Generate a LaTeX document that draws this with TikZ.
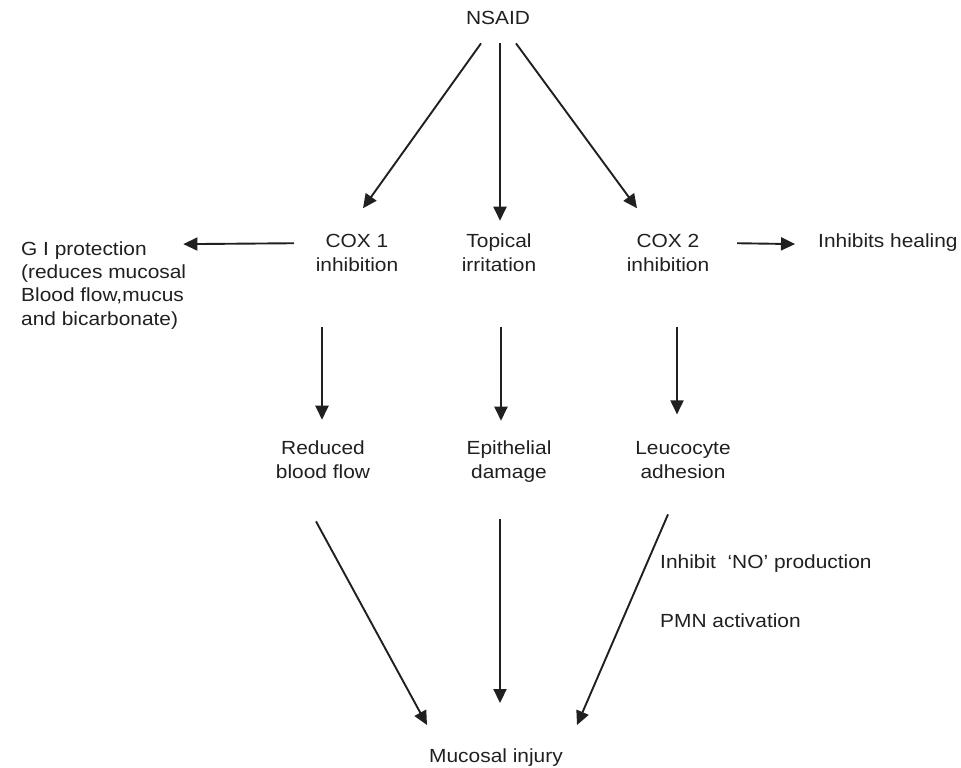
\documentclass[tikz,border=0pt]{standalone}
\usepackage{fontspec}
\setmainfont{Liberation Sans}[FakeStretch=1.1]
\usepackage{tikz}
\usetikzlibrary{arrows.meta}
\definecolor{mink}{rgb}{0.13, 0.12, 0.12}
\tikzset{arr/.style = {draw = mink, line width = 1.9pt,
                       -{Triangle[length = 14pt, width = 13pt]}}}
\tikzset{lbl/.style = {inner sep = 0, text = mink,
                       font = \fontsize{19}{23.3}\selectfont}}

\begin{document}
\begin{tikzpicture}[x = 1pt, y = -1pt]
    \useasboundingbox (0, 0) rectangle (961, 768);
    \node [lbl, anchor = base] (nsaid) at (498, 25) {NSAID};
    \node [lbl, anchor = base, align = center] (cox1) at (357, 271) {COX 1\\inhibition};
    \node [lbl, anchor = base, align = center] (topical) at (499, 271) {Topical\\irritation};
    \node [lbl, anchor = base, align = center] (cox2) at (668, 271) {COX 2\\inhibition};
    \node [lbl, anchor = base west, align = left] (gi) at (21, 325)
      {G I protection\\(reduces mucosal\\Blood flow,mucus\\and bicarbonate)};
    \node [lbl, anchor = base west] (heal) at (818, 247) {Inhibits healing};
    \node [lbl, anchor = base, align = center] (reduced) at (323, 478) {Reduced\\blood flow};
    \node [lbl, anchor = base, align = center] (epith) at (509, 478) {Epithelial\\damage};
    \node [lbl, anchor = base, align = center] (leuco) at (683, 478) {Leucocyte\\adhesion};
    \node [lbl, anchor = base west] (noprod) at (660, 568) {Inhibit~ ‘NO’ production};
    \node [lbl, anchor = base west] (pmn) at (660, 627) {PMN activation};
    \node [lbl, anchor = base] (injury) at (496, 762) {Mucosal injury};
    % from NSAID
    \draw [arr] ([shift = {(-17, 18)}]nsaid.south) -- ([shift = {(6, -26)}]cox1.north);
    \draw [arr] ([shift = {(2, 18)}]nsaid.south) -- ([shift = {(1, -13)}]topical.north);
    \draw [arr] ([shift = {(18, 18)}]nsaid.south) -- ([shift = {(-31, -26)}]cox2.north);
    % sideways
    \draw [arr] ([shift = {(-63, 9)}]cox1.north) -- ([shift = {(-3, 3)}]gi.north east);
    \draw [arr] ([shift = {(69, 9)}]cox2.north) -- ([shift = {(-23, 2)}]heal.west);
    % second row
    \draw [arr] ([shift = {(-35, 56)}]cox1.south) -- ([shift = {(-1, -21)}]reduced.north);
    \draw [arr] ([shift = {(2, 56)}]topical.south) -- ([shift = {(-8, -20)}]epith.north);
    \draw [arr] ([shift = {(9, 56)}]cox2.south) -- ([shift = {(-6, -27)}]leuco.north);
    % to the injury
    \draw [arr] ([shift = {(-7, 43)}]reduced.south) -- ([shift = {(-69, -23)}]injury.north);
    \draw [arr] ([shift = {(-9, 37)}]epith.south) -- ([shift = {(4, -45)}]injury.north);
    \draw [arr] ([shift = {(-15, 36)}]leuco.south) -- ([shift = {(81, -23)}]injury.north);
  \end{tikzpicture}
\end{document}
